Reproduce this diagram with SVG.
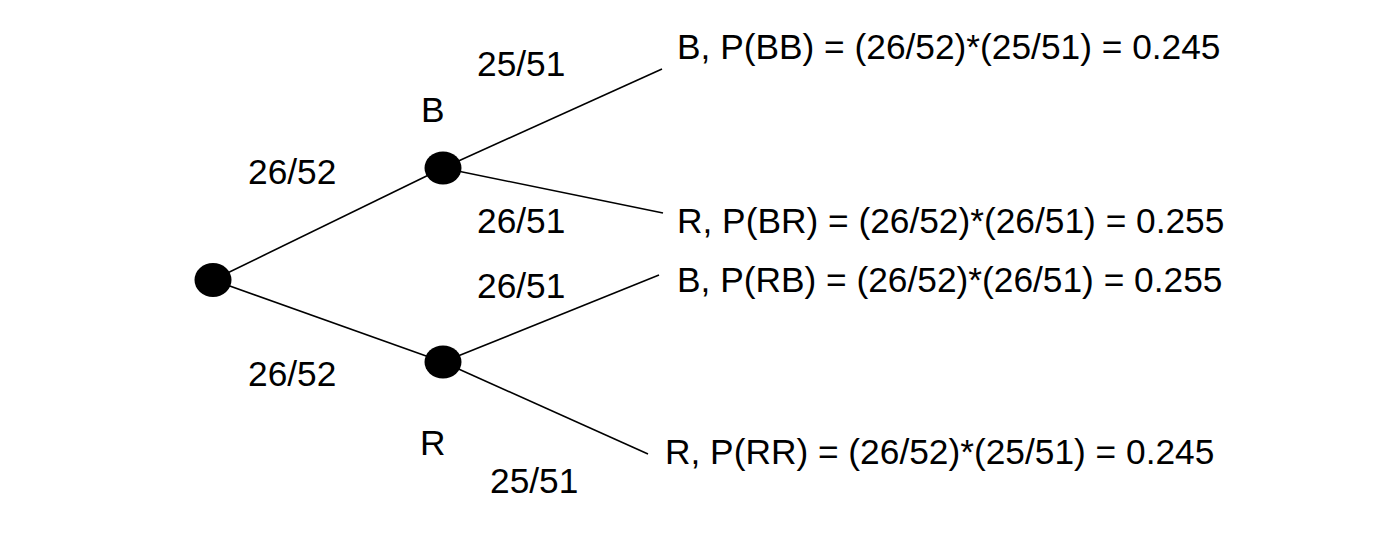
<svg xmlns="http://www.w3.org/2000/svg" width="1380" height="554" viewBox="0 0 1380 554">
<style>
.t{font-family:"Liberation Sans",Arial,sans-serif;font-size:35.3px;fill:#000}
.e{stroke:#000;stroke-width:1.6;fill:none}
.n{fill:#000}
</style>
<rect width="1380" height="554" fill="#fff"/>
<g id="connectors">
<line class="e" x1="213" y1="280" x2="443" y2="168"/>
<line class="e" x1="213" y1="280" x2="443" y2="362"/>
<line class="e" x1="443" y1="168" x2="662" y2="69"/>
<line class="e" x1="443" y1="168" x2="663" y2="213"/>
<line class="e" x1="443" y1="362" x2="659" y2="275"/>
<line class="e" x1="443" y1="362" x2="648" y2="454"/>
</g>
<g id="root"><ellipse class="n" cx="213" cy="280" rx="18.5" ry="17"/></g>
<g id="nodeB"><ellipse class="n" cx="443" cy="168" rx="18.5" ry="16.5"/><text class="t" x="421" y="122">B</text></g>
<g id="nodeR"><ellipse class="n" cx="443" cy="362" rx="18.5" ry="16.5"/><text class="t" x="420" y="455">R</text></g>
<g id="edge-labels">
<text class="t" x="248" y="184">26/52</text>
<text class="t" x="248" y="386">26/52</text>
<text class="t" x="477" y="76">25/51</text>
<text class="t" x="477" y="233">26/51</text>
<text class="t" x="477" y="298">26/51</text>
<text class="t" x="490" y="493">25/51</text>
</g>
<g id="leafBB"><text class="t" x="677" y="59">B, P(BB) = (26/52)*(25/51) = 0.245</text></g>
<g id="leafBR"><text class="t" x="677" y="233">R, P(BR) = (26/52)*(26/51) = 0.255</text></g>
<g id="leafRB"><text class="t" x="677" y="292">B, P(RB) = (26/52)*(26/51) = 0.255</text></g>
<g id="leafRR"><text class="t" x="665" y="464">R, P(RR) = (26/52)*(25/51) = 0.245</text></g>
</svg>
